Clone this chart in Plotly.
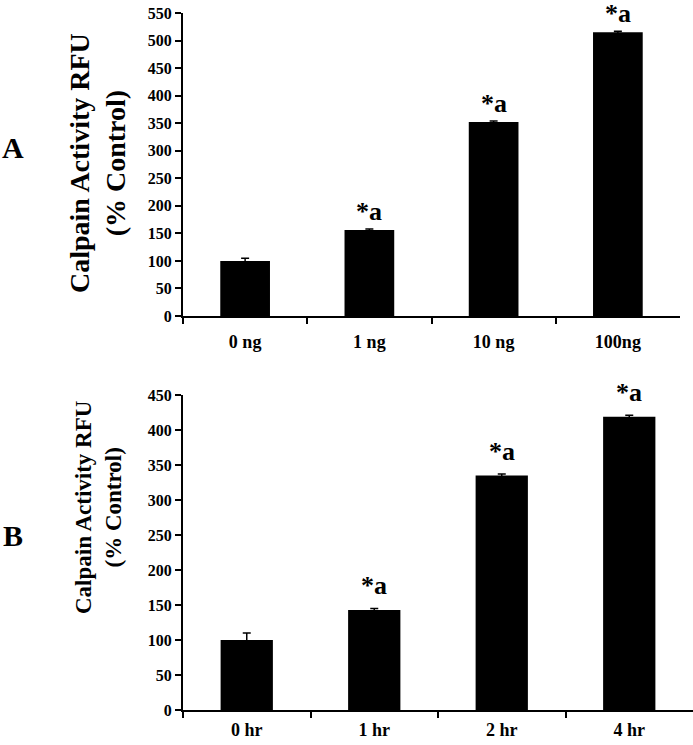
import plotly.graph_objects as go

# ---- data ----
cats_a = ["0 ng", "1 ng", "10 ng", "100ng"]
vals_a = [100, 156, 352, 515]
err_a = [5, 2, 2, 2]
sig_a = ["", "*a", "*a", "*a"]

cats_b = ["0 hr", "1 hr", "2 hr", "4 hr"]
vals_b = [100, 143, 335, 419]
err_b = [10, 2, 2, 2]
sig_b = ["", "*a", "*a", "*a"]

yticks_a = list(range(0, 551, 50))
yticks_b = list(range(0, 451, 50))

W, H = 693, 745
FONT = "Liberation Serif, Times New Roman, serif"

fig = go.Figure()

fig.add_trace(go.Bar(
    x=cats_a, y=vals_a, xaxis="x", yaxis="y",
    marker=dict(color="black", line=dict(width=0)),
    error_y=dict(type="data", array=err_a, visible=True, color="black", thickness=1.5, width=4),
    width=0.4, showlegend=False,
))
fig.add_trace(go.Bar(
    x=cats_b, y=vals_b, xaxis="x2", yaxis="y2",
    marker=dict(color="black", line=dict(width=0)),
    error_y=dict(type="data", array=err_b, visible=True, color="black", thickness=1.5, width=4),
    width=0.41, showlegend=False,
))

def px_x(p):
    return p / W

def px_y(p):
    return 1 - p / H

def bfont(size):
    return dict(family=FONT, size=size, color="black", weight="bold")

axis_common = dict(
    showline=True, linecolor="black", linewidth=2,
    ticks="outside", ticklen=6, tickwidth=2, tickcolor="black",
    showgrid=False, zeroline=False, automargin=False,
)

fig.update_layout(
    width=W, height=H,
    margin=dict(l=0, r=0, t=0, b=0, autoexpand=False),
    paper_bgcolor="white", plot_bgcolor="white",
    font=dict(family=FONT, color="black"),
    xaxis=dict(domain=[px_x(183), px_x(680)], anchor="y", type="category",
               tickson="boundaries", ticklabelstandoff=8, tickfont=bfont(18), **axis_common),
    yaxis=dict(domain=[px_y(316), px_y(13)], anchor="x", range=[0, 550],
               tickvals=yticks_a, tickfont=bfont(16), **axis_common),
    xaxis2=dict(domain=[px_x(183), px_x(693)], anchor="y2", type="category",
                tickson="boundaries", ticklabelstandoff=2, tickfont=bfont(18), **axis_common),
    yaxis2=dict(domain=[px_y(710), px_y(395)], anchor="x2", range=[0, 450],
                tickvals=yticks_b, tickfont=bfont(16), **axis_common),
)

annotations = []
for c, v, e, s in zip(cats_a, vals_a, err_a, sig_a):
    if s:
        annotations.append(dict(x=c, y=v, xref="x", yref="y", text=s, showarrow=False,
                                yanchor="bottom", yshift=2, font=bfont(26)))
for c, v, e, s in zip(cats_b, vals_b, err_b, sig_b):
    if s:
        annotations.append(dict(x=c, y=v, xref="x2", yref="y2", text=s, showarrow=False,
                                yanchor="bottom", yshift=8, font=bfont(26)))

# axis titles
annotations.append(dict(x=px_x(97), y=px_y(163), xref="paper", yref="paper",
                        text="Calpain Activity RFU<br>(% Control)", showarrow=False,
                        textangle=-90, xanchor="center", yanchor="middle", font=bfont(28)))
annotations.append(dict(x=px_x(98), y=px_y(507), xref="paper", yref="paper",
                        text="Calpain Activity RFU<br>(% Control)", showarrow=False,
                        textangle=-90, xanchor="center", yanchor="middle", font=bfont(23)))
# panel labels
annotations.append(dict(x=px_x(13), y=px_y(147), xref="paper", yref="paper", text="A",
                        showarrow=False, xanchor="center", yanchor="middle", font=bfont(30)))
annotations.append(dict(x=px_x(13), y=px_y(535), xref="paper", yref="paper", text="B",
                        showarrow=False, xanchor="center", yanchor="middle", font=bfont(30)))

fig.update_layout(annotations=annotations)

fig.write_html(
    "out.html",
    config={"displayModeBar": False},
    post_script="document.body.style.margin='0';document.body.style.overflow='hidden';",
)
